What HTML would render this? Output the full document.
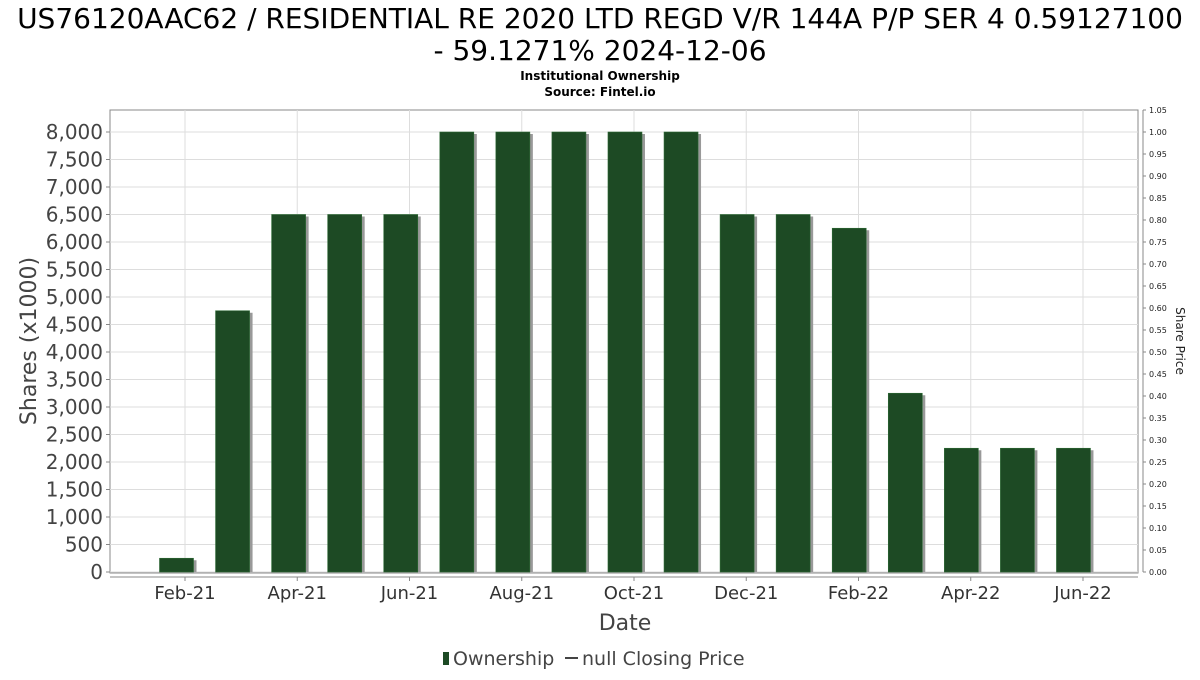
<!DOCTYPE html>
<html><head><meta charset="utf-8"><style>
body{margin:0;background:#fff;}
svg text{font-family:"DejaVu Sans","Liberation Sans",sans-serif;}
</style></head><body>
<svg width="1200" height="675" xmlns="http://www.w3.org/2000/svg" id="c">
<text x="600" y="28" font-size="28" text-anchor="middle" fill="#000">US76120AAC62 / RESIDENTIAL RE 2020 LTD REGD V/R 144A P/P SER 4 0.59127100</text>
<text x="600" y="60" font-size="28" text-anchor="middle" fill="#000">- 59.1271% 2024-12-06</text>
<text x="600" y="80" font-size="12" font-weight="bold" text-anchor="middle">Institutional Ownership</text>
<text x="600" y="96" font-size="12" font-weight="bold" text-anchor="middle">Source: Fintel.io</text>
<rect x="110" y="110" width="1028" height="463" fill="#fff" stroke="#888"/>
<g id="grid"></g><g id="bars"></g><g id="axes"></g>
<text transform="translate(36,341) rotate(-90)" font-size="22" text-anchor="middle" fill="#444">Shares (x1000)</text>
<text transform="translate(1176,341) rotate(90)" font-size="12" text-anchor="middle" fill="#222">Share Price</text>
<text x="625" y="630" font-size="22" text-anchor="middle" fill="#444">Date</text>
<g>
<rect x="443" y="652" width="6" height="13" fill="#1d4a24"/>
<text x="453" y="665" font-size="19" fill="#444">Ownership</text>
<line x1="565" y1="658" x2="578" y2="658" stroke="#444" stroke-width="2"/>
<text x="582" y="665" font-size="19" fill="#444">null Closing Price</text>
</g>
</svg>
<script>
const values=[250,4750,6500,6500,6500,8000,8000,8000,8000,8000,6500,6500,6250,3250,2250,2250,2250];
const yTicks=[0,500,1000,1500,2000,2500,3000,3500,4000,4500,5000,5500,6000,6500,7000,7500,8000];
const xLabels=["Feb-21","Apr-21","Jun-21","Aug-21","Oct-21","Dec-21","Feb-22","Apr-22","Jun-22"];
const priceTicks=[0,0.05,0.10,0.15,0.20,0.25,0.30,0.35,0.40,0.45,0.50,0.55,0.60,0.65,0.70,0.75,0.80,0.85,0.90,0.95,1.00,1.05];
const NS="http://www.w3.org/2000/svg";
const pTop=110,pBot=572,yMax=8400;
const y=v=>pBot-(v/yMax)*(pBot-pTop);
const y2=v=>pBot-(v/1.05)*(pBot-pTop);
const xb=i=>176.5+i*56.06;
const xt=i=>185+i*112.25;
function mk(t,a,p){const e=document.createElementNS(NS,t);for(const k in a)e.setAttribute(k,a[k]);p.appendChild(e);return e;}
const g=document.getElementById('grid'),b=document.getElementById('bars'),ax=document.getElementById('axes');
yTicks.forEach(v=>{
 const l=mk('line',{x1:110,x2:1138,y1:y(v),y2:y(v),stroke:'#ddd'},g);
 
 
 const t=mk('text',{x:103,y:y(v)+7,'font-size':20,'text-anchor':'end',fill:'#444'},ax);
 t.textContent=v.toLocaleString('en-US');
 
 
 mk('line',{x1:106,x2:110,y1:y(v),y2:y(v),stroke:'#888'},ax);
});
xLabels.forEach((s,i)=>{
 const l=mk('line',{x1:xt(i),x2:xt(i),y1:pTop,y2:pBot,stroke:'#ddd'},g);
 
 
 mk('line',{x1:xt(i),x2:xt(i),y1:577,y2:581,stroke:'#888'},ax);
 const t=mk('text',{x:xt(i),y:599,'font-size':18,'text-anchor':'middle',fill:'#333'},ax);
 t.textContent=s;
 
 
});
mk('line',{x1:110,x2:1138,y1:577,y2:577,stroke:'#888'},ax);
mk('line',{x1:1143,x2:1143,y1:pTop,y2:pBot,stroke:'#888'},ax);
priceTicks.forEach(v=>{
 mk('line',{x1:1143,x2:1146,y1:y2(v),y2:y2(v),stroke:'#888'},ax);
 const t=mk('text',{x:1149,y:y2(v)+3,'font-size':8,fill:'#222'},ax);
 t.textContent=v.toFixed(2);
 
 
});
values.forEach((v,i)=>{
 const x0=xb(i)-17;
 mk('rect',{x:x0+3,y:y(v)+2,width:34,height:pBot-y(v)-2,fill:'#999'},b);
 const r=mk('rect',{x:x0,y:y(v),width:34,height:pBot-y(v),fill:'#1d4a24',stroke:'#2d6a35','stroke-width':0.6},b);
 
 
});
</script>
</body></html>
